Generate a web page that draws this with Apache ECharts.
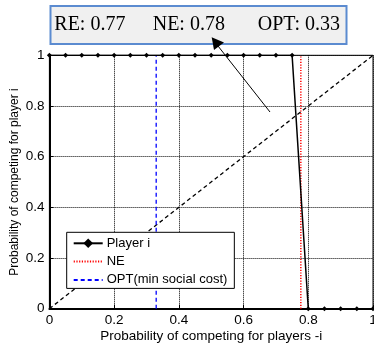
<!DOCTYPE html>
<html>
<head>
<meta charset="utf-8">
<script src="https://cdn.jsdelivr.net/npm/echarts@6/dist/echarts.min.js"></script>
<style>html,body{margin:0;padding:0;background:#fff;}#c{width:374px;height:345px;}</style>
</head>
<body>
<div id="c"></div>
<script>
// Data
const playerX = [0,0.05,0.1,0.15,0.2,0.25,0.3,0.35,0.4,0.45,0.5,0.55,0.6,0.65,0.7,0.75,0.8,0.85,0.9,0.95,1];
const playerY = [1,1,1,1,1,1,1,1,1,1,1,1,1,1,1,1,0,0,0,0,0];
const neX = 0.777;
const optX = 0.33;
const diagX = [0, 1];
const diagY = [0, 1];
const annotationLabels = ['RE: 0.77', 'NE: 0.78', 'OPT: 0.33'];
const xTitle = 'Probability of competing for players -i';
const yTitle = 'Probability of competing for player i';

const chart = echarts.init(document.getElementById('c'), null, {renderer: 'canvas'});
const font = 'Liberation Sans';
const axisCommon = {
  type: 'value', min: 0, max: 1, interval: 0.2,
  axisLine: {show: true, onZero: false, lineStyle: {color: '#000', width: 2}},
  axisTick: {show: true, inside: true, length: 4, lineStyle: {color: '#000'}},
  splitLine: {show: true, lineStyle: {color: '#000', type: [1, 1], width: 1}},
  axisLabel: {color: '#000', fontSize: 13.5, fontFamily: font}
};
chart.setOption({
  animation: false,
  backgroundColor: '#fff',
  grid: {left: 49.4, right: 1, top: 55.3, bottom: 36.3, show: true, borderColor: '#000', borderWidth: 1,
         backgroundColor: 'transparent', containLabel: false, outerBoundsMode: 'none'},
  xAxis: Object.assign({}, axisCommon, {
    name: xTitle, nameLocation: 'middle', nameGap: 21, nameMoveOverlap: false,
    nameTextStyle: {color: '#000', fontSize: 13.5, fontFamily: font},
    axisLabel: Object.assign({}, axisCommon.axisLabel, {margin: 5})
  }),
  yAxis: Object.assign({}, axisCommon, {
    name: yTitle, nameLocation: 'middle', nameGap: 28.5, nameMoveOverlap: false,
    nameTextStyle: {color: '#000', fontSize: 12, fontFamily: font},
    axisLabel: Object.assign({}, axisCommon.axisLabel, {margin: 5})
  }),
  legend: {
    orient: 'vertical', left: 66.7, top: 232.3,
    data: [
      {name: 'Player i'},
      {name: 'NE', itemStyle: {opacity: 0}},
      {name: 'OPT(min social cost)', itemStyle: {opacity: 0}}
    ],
    backgroundColor: '#fff', borderColor: '#000', borderWidth: 1,
    padding: [4.5, 7, 2, 6], itemWidth: 29, itemHeight: 12, itemGap: 5.3,
    textStyle: {color: '#000', fontSize: 13, fontFamily: font, padding: [0, 0, 0, -1]}
  },
  series: [
    {
      name: 'diag', type: 'line', data: diagX.map((x, i) => [x, diagY[i]]),
      showSymbol: false, symbol: 'none', lineStyle: {color: '#000', width: 1.3, type: [4, 3]}, z: 2
    },
    {
      name: 'OPT(min social cost)', type: 'line', data: [[optX, 0], [optX, 1]],
      symbol: 'none', lineStyle: {color: '#0000ff', width: 1.3, type: [4, 3]}, itemStyle: {color: '#0000ff'}, z: 3
    },
    {
      name: 'NE', type: 'line', data: [[neX, 0], [neX, 1]],
      symbol: 'none', lineStyle: {color: '#ff0000', width: 1.5, type: [1.2, 1.5]}, itemStyle: {color: '#ff0000'}, z: 3
    },
    {
      name: 'Player i', type: 'line', data: playerX.map((x, i) => [x, playerY[i]]),
      symbol: 'diamond', symbolSize: 5, showAllSymbol: true,
      lineStyle: {color: '#000', width: 1.5}, itemStyle: {color: '#000'}, z: 4
    }
  ],
  graphic: [
    {type: 'rect', shape: {x: 50.5, y: 6, width: 296, height: 38}, style: {fill: '#f0f0f0', stroke: '#5b8bd0', lineWidth: 2}, z: 10},
    {type: 'text', x: 54.3, y: 25, style: {text: annotationLabels[0], font: '20px "Liberation Serif", "Times New Roman", serif', fill: '#000', textVerticalAlign: 'middle'}, z: 11},
    {type: 'text', x: 152.7, y: 25, style: {text: annotationLabels[1], font: '20px "Liberation Serif", "Times New Roman", serif', fill: '#000', textVerticalAlign: 'middle'}, z: 11},
    {type: 'text', x: 257.7, y: 25, style: {text: annotationLabels[2], font: '20px "Liberation Serif", "Times New Roman", serif', fill: '#000', textVerticalAlign: 'middle'}, z: 11},
    {type: 'line', shape: {x1: 270, y1: 112, x2: 218, y2: 46}, style: {stroke: '#000', lineWidth: 1}, z: 12},
    {type: 'polygon', shape: {points: [[211.7, 37.3], [214, 50], [224, 42.5]]}, style: {fill: '#000'}, z: 12}
  ]
});
</script>
</body>
</html>
